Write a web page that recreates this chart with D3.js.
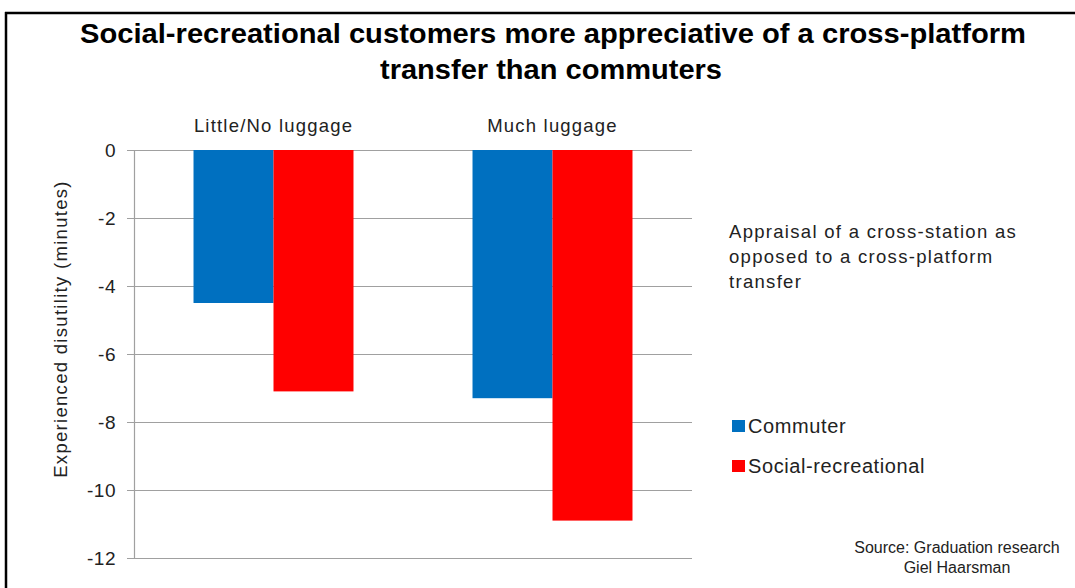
<!DOCTYPE html>
<html>
<head>
<meta charset="utf-8">
<script src="https://cdn.jsdelivr.net/npm/d3@7"></script>
<style>
  body { margin: 0; background: #fff; }
  text { font-family: "Liberation Sans", Arial, sans-serif; }
</style>
</head>
<body>
<div id="chart"></div>
<script>
// data
var categories = ["Little/No luggage", "Much luggage"];
var seriesNames = ["Commuter", "Social-recreational"];
var commuterValues = [-4.5, -7.3];
var socialValues = [-7.1, -10.9];
var yTicks = [0, -2, -4, -6, -8, -10, -12];
var colors = ["#0070C0", "#FF0000"];

var W = 1075, H = 588;
var plot = {left: 134, right: 692, top: 150, bottom: 558};

var svg = d3.select("#chart").append("svg")
    .attr("width", W)
    .attr("height", H);

svg.append("rect").attr("width", W).attr("height", H).attr("fill", "#fff");

// frame (top + left only visible)
svg.append("line")
    .attr("x1", 5).attr("x2", W).attr("y1", 13).attr("y2", 13)
    .style("stroke", "#000").style("stroke-width", 2.5);
svg.append("line")
    .attr("x1", 6).attr("x2", 6).attr("y1", 12).attr("y2", H)
    .style("stroke", "#000").style("stroke-width", 2.5);

// title
var title = svg.append("text")
    .attr("text-anchor", "middle")
    .style("font-family", "'Liberation Sans Narrow', 'Arial Narrow', sans-serif")
    .style("font-weight", "bold")
    .style("font-size", "27px")
    .style("fill", "#000");
title.append("tspan").attr("x", 553).attr("y", 43)
    .attr("textLength", 946).attr("lengthAdjust", "spacingAndGlyphs")
    .text("Social-recreational customers more appreciative of a cross-platform");
title.append("tspan").attr("x", 551).attr("y", 79)
    .attr("textLength", 342).attr("lengthAdjust", "spacingAndGlyphs")
    .text("transfer than commuters");

var y = d3.scaleLinear()
    .domain([-12, 0])
    .range([plot.bottom, plot.top]);

var x0 = d3.scaleBand()
    .domain(categories)
    .range([plot.left, plot.right])
    .paddingInner(0)
    .paddingOuter(0);

var x1 = d3.scaleBand()
    .domain(seriesNames)
    .range([0, x0.bandwidth()])
    .paddingInner(0)
    .paddingOuter(0.744);

// gridlines
svg.append("g").selectAll("line")
    .data(yTicks)
    .enter().append("line")
    .attr("x1", plot.left - 7)
    .attr("x2", plot.right)
    .attr("y1", function (d) { return Math.round(y(d)) + 0.5; })
    .attr("y2", function (d) { return Math.round(y(d)) + 0.5; })
    .style("stroke", "#a0a0a0")
    .style("stroke-width", 1.2);

// y axis line
svg.append("line")
    .attr("x1", plot.left + 0.5).attr("x2", plot.left + 0.5)
    .attr("y1", plot.top).attr("y2", plot.bottom + 0.5)
    .style("stroke", "#a0a0a0").style("stroke-width", 1.2);

// tick labels
svg.append("g").selectAll("text")
    .data(yTicks)
    .enter().append("text")
    .attr("x", 116)
    .attr("y", function (d) { return y(d); })
    .attr("dy", "0.36em")
    .attr("text-anchor", "end")
    .style("font-size", "19px")
    .style("letter-spacing", "0.5px")
    .style("fill", "#222")
    .text(function (d) { return d; });

// y axis title
svg.append("text")
    .attr("transform", "translate(67," + ((plot.top + plot.bottom) / 2 - 25) + ") rotate(-90)")
    .attr("text-anchor", "middle")
    .style("font-size", "18.5px")
    .style("letter-spacing", "1.3px")
    .style("fill", "#222")
    .text("Experienced disutility (minutes)");

// bars
var rows = categories.map(function (c, i) {
    return [
        {cat: c, series: seriesNames[0], value: commuterValues[i]},
        {cat: c, series: seriesNames[1], value: socialValues[i]}
    ];
});

var group = svg.selectAll(".group")
    .data(rows)
    .enter().append("g")
    .attr("class", "group")
    .attr("transform", function (d) { return "translate(" + x0(d[0].cat) + ",0)"; });

group.selectAll("rect")
    .data(function (d) { return d; })
    .enter().append("rect")
    .attr("x", function (d) { return x1(d.series); })
    .attr("y", y(0))
    .attr("width", x1.bandwidth())
    .attr("height", function (d) { return y(d.value) - y(0); })
    .style("fill", function (d, i) { return colors[i]; });

// category labels at top
svg.append("g").selectAll("text")
    .data(categories)
    .enter().append("text")
    .attr("x", function (d) { return x0(d) + x0.bandwidth() / 2; })
    .attr("y", 132)
    .attr("text-anchor", "middle")
    .style("font-size", "18.5px")
    .style("letter-spacing", "1.2px")
    .style("fill", "#222")
    .text(function (d) { return d; });

// annotation
var note = svg.append("text")
    .style("font-size", "18.5px")
    .style("letter-spacing", "1.3px")
    .style("fill", "#222");
["Appraisal of a cross-station as", "opposed to a cross-platform", "transfer"].forEach(function (t, i) {
    note.append("tspan").attr("x", 729).attr("y", 238 + i * 25).text(t);
});

// legend
var legend = svg.append("g").selectAll("g")
    .data(seriesNames)
    .enter().append("g")
    .attr("transform", function (d, i) { return "translate(732," + (420 + i * 40) + ")"; });

legend.append("rect")
    .attr("width", 13).attr("height", 12)
    .style("fill", function (d, i) { return colors[i]; });

legend.append("text")
    .attr("x", 16).attr("y", 13)
    .style("font-size", "20px")
    .style("letter-spacing", "0.6px")
    .style("fill", "#222")
    .text(function (d) { return d; });

// source
var src = svg.append("text")
    .attr("text-anchor", "middle")
    .style("font-size", "16px")
    .style("fill", "#222");
src.append("tspan").attr("x", 957).attr("y", 553).text("Source: Graduation research");
src.append("tspan").attr("x", 957).attr("y", 573).text("Giel Haarsman");
</script>
</body>
</html>
